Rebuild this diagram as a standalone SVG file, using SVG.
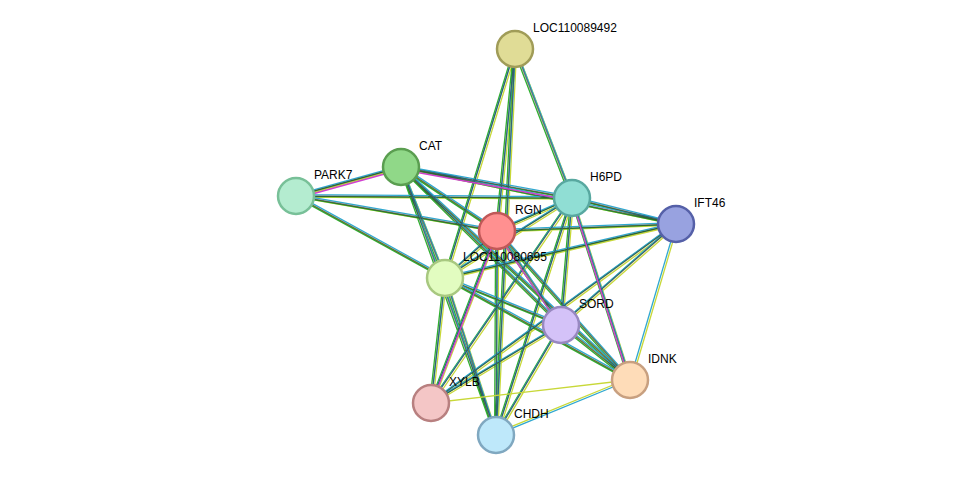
<svg xmlns="http://www.w3.org/2000/svg" xmlns:xlink="http://www.w3.org/1999/xlink" width="976" height="481" viewBox="0 0 976 481">
<style>
.n{stroke-width:2.5}
.t{font-family:"Liberation Sans",Arial,sans-serif;font-size:12px;fill:#000}
.e{fill:none;stroke-width:1.3}
</style>
<defs>
<g id="all">
<path d="M515,49L497,231M515,49L445,278M515,49L572,198M515,49L496,435
M401,167L296,196M401,167L572,198M401,167L497,231M401,167L676,224M401,167L445,278M401,167L561,325M401,167L630,380M401,167L496,435
M296,196L497,231M296,196L445,278M296,196L572,198
M572,198L497,231M572,198L676,224M572,198L445,278M572,198L561,325M572,198L630,380M572,198L431,403M572,198L496,435
M676,224L497,231M676,224L445,278M676,224L561,325M676,224L431,403
M497,231L445,278M497,231L561,325M497,231L431,403M497,231L496,435M497,231L630,380
M445,278L561,325M445,278L630,380M445,278L431,403M445,278L496,435
M561,325L431,403M561,325L496,435M561,325L630,380"/>
</g>
<g id="pink"><path d="M401,167L296,196M401,167L572,198M572,198L630,380M497,231L431,403M497,231L561,325"/></g>
</defs>
<g id="connectors" class="e">
<use xlink:href="#all" stroke="#c8d838" transform="translate(1.6,1)"/>
<use xlink:href="#all" stroke="#30b030" transform="translate(-1.4,0.4)"/>
<use xlink:href="#all" stroke="#30a8d0" transform="translate(0.4,-1.4)"/>
<use xlink:href="#all" stroke="#303030" transform="translate(0,0)" opacity="0.6"/>
<use xlink:href="#pink" stroke="#d040d0" transform="translate(0,2.5)"/>
<path d="M676,224L630,380" stroke="#30a8d0"/>
<path d="M676,224L630,380" stroke="#c8d838" transform="translate(2,0)"/>
<path d="M431,403L630,380" stroke="#c8d838"/>
<path d="M496,435L630,380" stroke="#30a8d0"/>
<path d="M496,435L630,380" stroke="#c8d838" transform="translate(0,-2)"/>
</g>
<g id="LOC110089492"><circle class="n" cx="515" cy="49" r="18" fill="#e0dc96" stroke="#a09c58"/><text class="t" x="533" y="32">LOC110089492</text></g>
<g id="CAT"><circle class="n" cx="401" cy="167" r="18" fill="#90d888" stroke="#5a9e50"/><text class="t" x="419" y="150">CAT</text></g>
<g id="PARK7"><circle class="n" cx="296" cy="196" r="18" fill="#b4ecd0" stroke="#78c098"/><text class="t" x="314" y="179">PARK7</text></g>
<g id="H6PD"><circle class="n" cx="572" cy="198" r="18" fill="#90ded4" stroke="#58a8a0"/><text class="t" x="590" y="181">H6PD</text></g>
<g id="IFT46"><circle class="n" cx="676" cy="224" r="18" fill="#98a2e0" stroke="#5560a8"/><text class="t" x="694" y="207">IFT46</text></g>
<g id="RGN"><circle class="n" cx="497" cy="231" r="18" fill="#ff9090" stroke="#c05858"/><text class="t" x="515" y="214">RGN</text></g>
<g id="LOC110080695"><circle class="n" cx="445" cy="278" r="18" fill="#e2fcc0" stroke="#a8c880"/><text class="t" x="463" y="261">LOC110080695</text></g>
<g id="SORD"><circle class="n" cx="561" cy="325" r="18" fill="#d4c2f8" stroke="#9888c0"/><text class="t" x="579" y="308">SORD</text></g>
<g id="IDNK"><circle class="n" cx="630" cy="380" r="18" fill="#fedcb8" stroke="#c8a080"/><text class="t" x="648" y="363">IDNK</text></g>
<g id="XYLB"><circle class="n" cx="431" cy="403" r="18" fill="#f4c6c6" stroke="#b88080"/><text class="t" x="449" y="386">XYLB</text></g>
<g id="CHDH"><circle class="n" cx="496" cy="435" r="18" fill="#bee8fa" stroke="#80a8c0"/><text class="t" x="514" y="418">CHDH</text></g>
</svg>
